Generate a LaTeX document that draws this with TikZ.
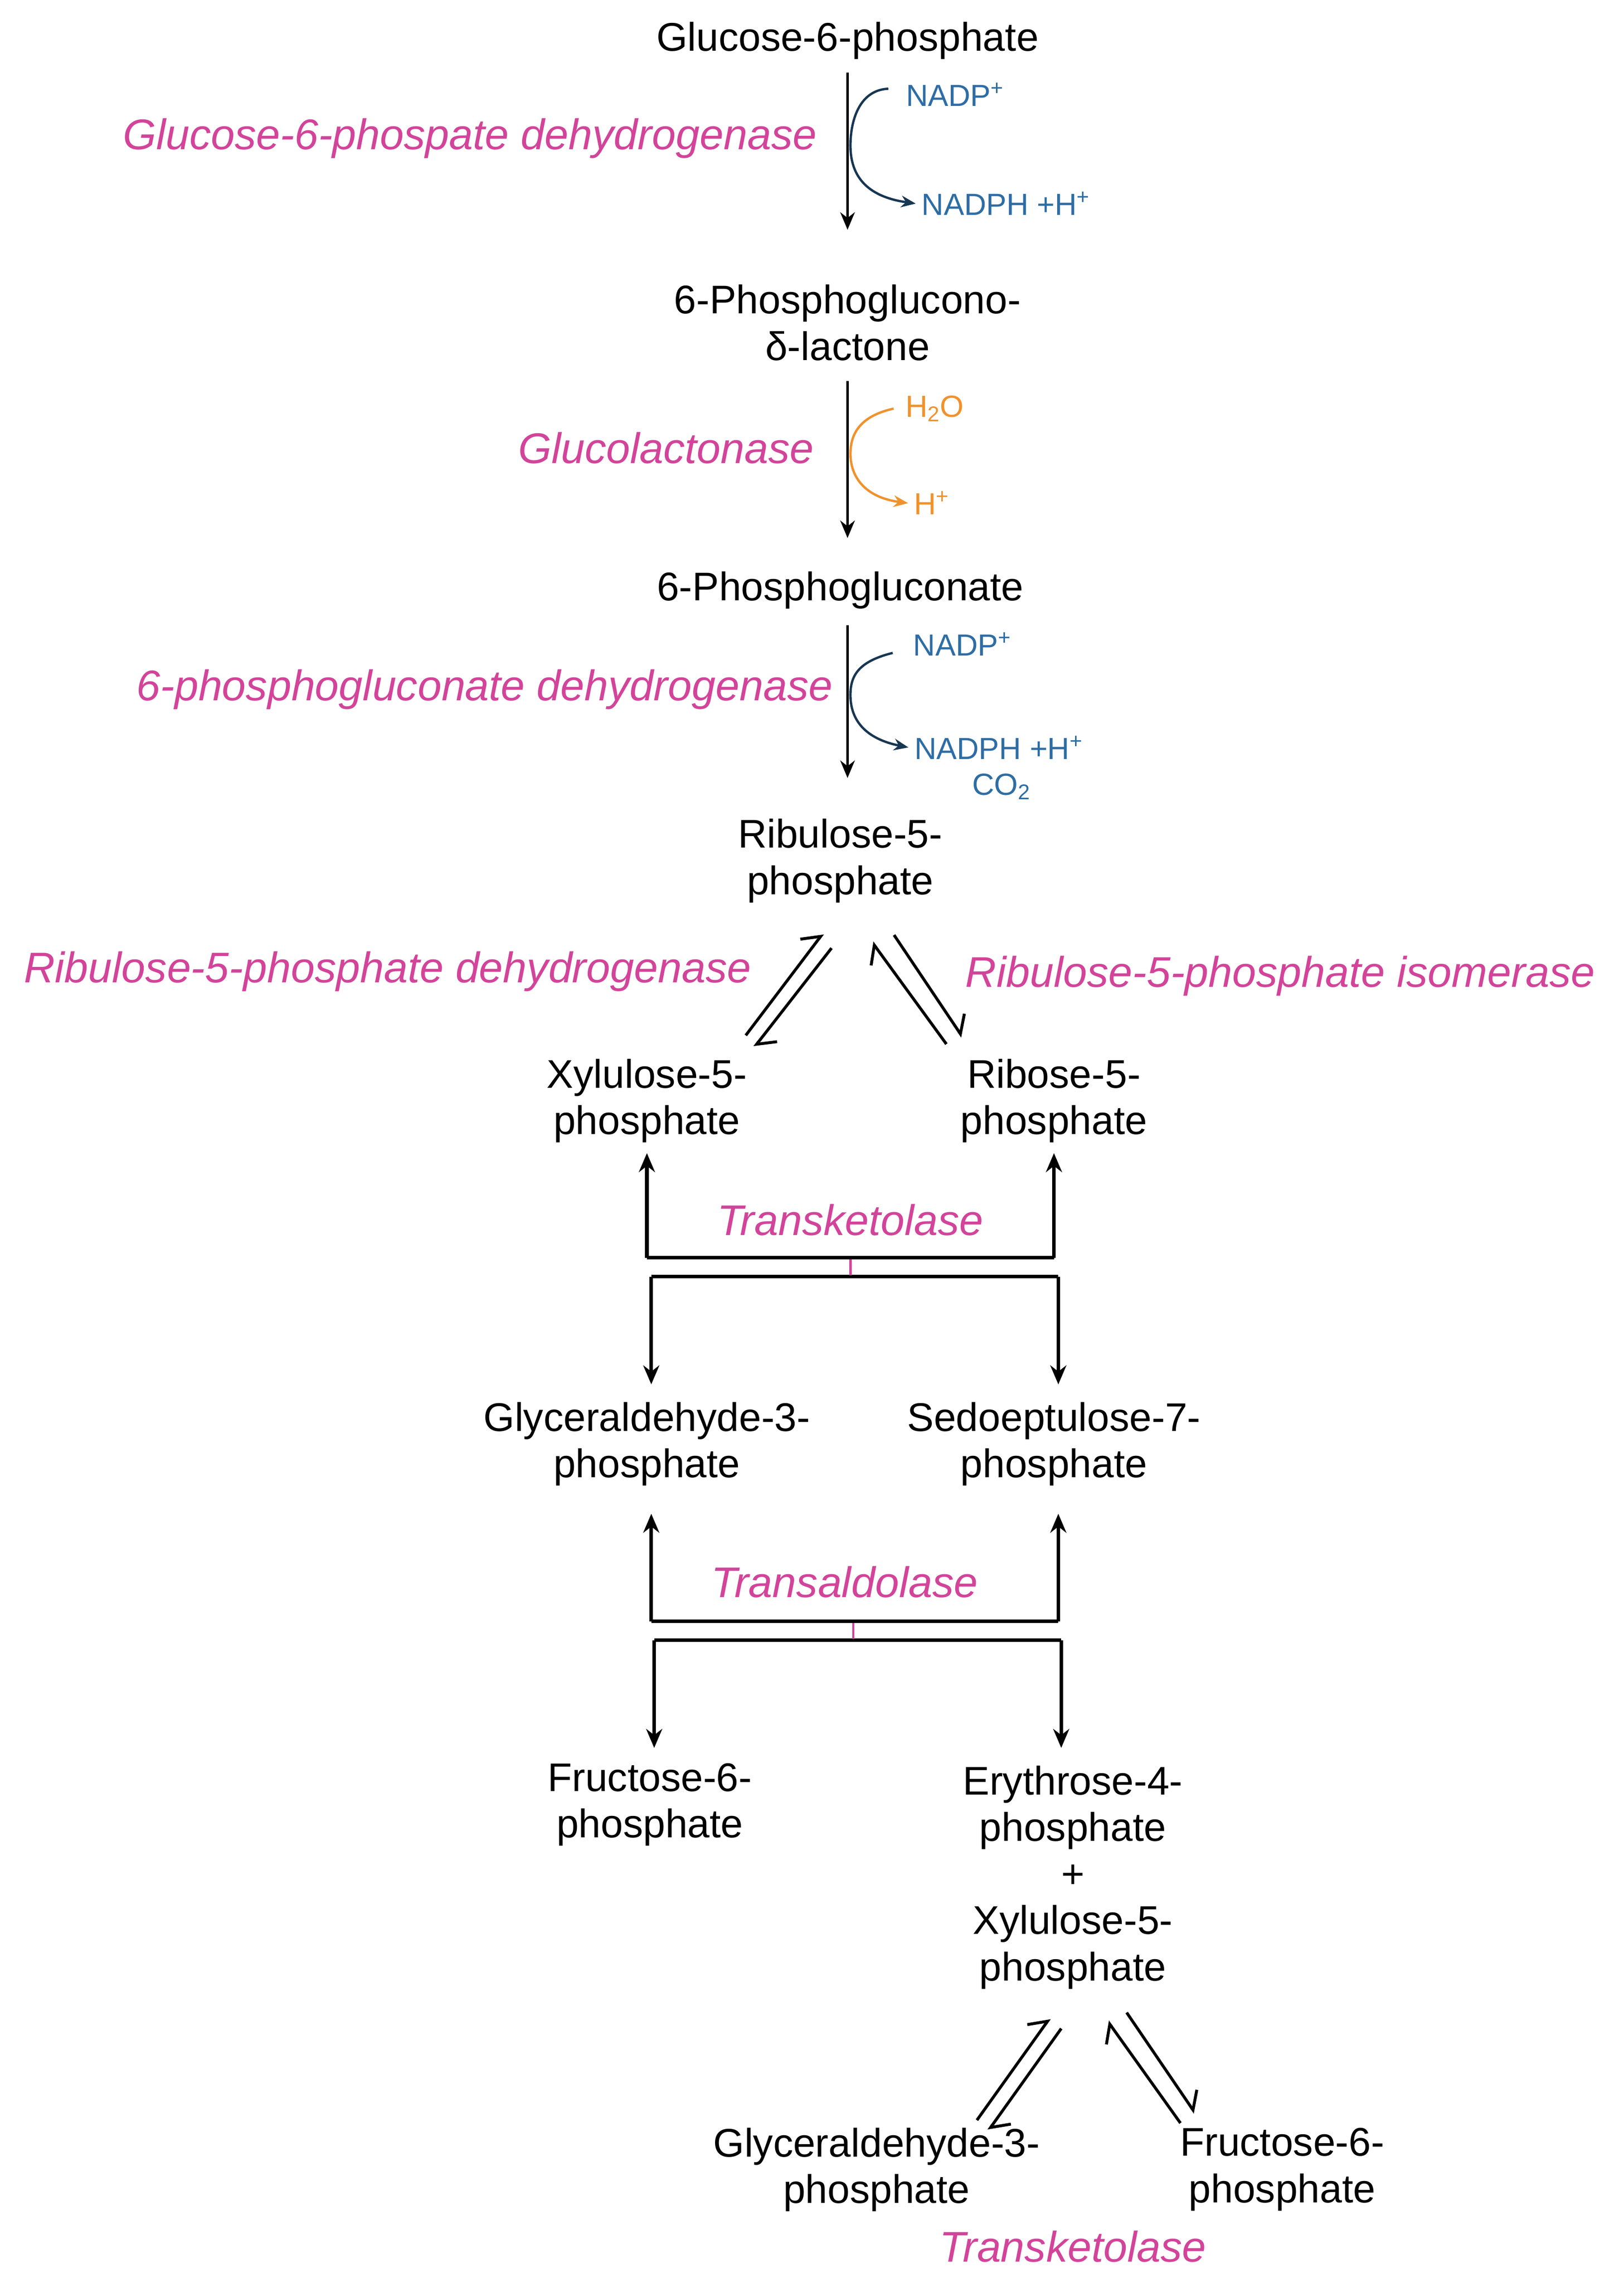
\documentclass[tikz,border=0pt]{standalone}
\usepackage{fontspec}
\setmainfont{Liberation Sans}
\usetikzlibrary{arrows.meta}
\definecolor{enz}{HTML}{D2449A}
\definecolor{cof}{HTML}{2E6DA4}
\definecolor{wat}{HTML}{F0922C}
\begin{document}
\begin{tikzpicture}[x=1pt,y=-1pt,
  met/.style={align=center,font=\fontsize{27.5}{32}\selectfont,inner sep=0pt},
  en/.style={font=\fontsize{29.5}{32}\selectfont\itshape,text=enz,inner sep=0pt},
  co/.style={font=\fontsize{21}{24}\selectfont,inner sep=0pt},
  main/.style={line width=1.8pt,-{Stealth[length=12pt,width=10pt]}},
  side/.style={line width=1.6pt,-{Stealth[length=10pt,width=8pt]}},
  br/.style={line width=2.4pt},
  brA/.style={line width=2.4pt,-{Stealth[length=13pt,width=11pt]}},
  harp/.style={line width=2pt,-{Straight Barb[left,length=10pt]}}]
\useasboundingbox (0,0) rectangle (1117,1570);
% metabolites
\node[met] (g6p) at (583,28) {Glucose-6-phosphate};
\node[met] (pgl) at (583,222) {6-Phosphoglucono-\\δ-lactone};
\node[met] (pg) at (578,406) {6-Phosphogluconate};
\node[met] (ru5p) at (578,592) {Ribulose-5-\\phosphate};
\node[met] (xu5p) at (445,757) {Xylulose-5-\\phosphate};
\node[met] (r5p) at (725,757) {Ribose-5-\\phosphate};
\node[met] (gap) at (445,993) {Glyceraldehyde-3-\\phosphate};
\node[met] (s7p) at (725,993) {Sedoeptulose-7-\\phosphate};
\node[met] (f6p) at (447,1241) {Fructose-6-\\phosphate};
\node[met] (e4p) at (738,1291) {Erythrose-4-\\phosphate\\+\\Xylulose-5-\\phosphate};
\node[met] (gap2) at (603,1492) {Glyceraldehyde-3-\\phosphate};
\node[met] (f6p2) at (882,1492) {Fructose-6-\\phosphate};
% enzymes
\node[en,anchor=east] (e1) at (562,95) {Glucose-6-phospate dehydrogenase};
\node[en,anchor=east] (e2) at (560,308) {Glucolactonase};
\node[en,anchor=east] (e3) at (573,474) {6-phosphogluconate dehydrogenase};
\node[en,anchor=east] (e4) at (517,668) {Ribulose-5-phosphate dehydrogenase};
\node[en,anchor=west] (e5) at (664,671) {Ribulose-5-phosphate isomerase};
\node[en] (e6) at (585,839) {Transketolase};
\node[en] (e7) at (581,1088) {Transaldolase};
\node[en] (e8) at (738,1545) {Transketolase};
% cofactors
\node[co,text=cof] (c1) at (657,65) {NADP\textsuperscript{+}};
\node[co,text=cof] (c2) at (692,140) {NADPH +H\textsuperscript{+}};
\node[co,text=wat] (c3) at (643,281) {H\textsubscript{2}O};
\node[co,text=wat] (c4) at (641,346) {H\textsuperscript{+}};
\node[co,text=cof] (c5) at (662,443) {NADP\textsuperscript{+}};
\node[co,text=cof] (c6) at (687,514) {NADPH +H\textsuperscript{+}};
\node[co,text=cof] (c7) at (689,541) {CO\textsubscript{2}};
% main arrows
\coordinate (a1s) at (583,50); \coordinate (a1e) at (583,158);
\draw[main] (a1s) -- (a1e);
\draw[side,draw=cof!50!black] (c1.west) ++(-12,-4) .. controls (590,62) and (585,85) .. (585,100) .. controls (585,120) and (595,135) .. ([xshift=-4pt]c2.west);
\coordinate (a2s) at (583,262); \coordinate (a2e) at (583,370);
\draw[main] (a2s) -- (a2e);
\draw[side,draw=wat] (c3.west) ++(-8,0) .. controls (592,286) and (585,298) .. (585,312) .. controls (585,328) and (595,342) .. ([xshift=-4pt]c4.west);
\coordinate (a3s) at (583,430); \coordinate (a3e) at (583,535);
\draw[main] (a3s) -- (a3e);
\draw[side,draw=cof!50!black] (c5.west) ++(-14,6) .. controls (590,455) and (585,465) .. (585,478) .. controls (585,495) and (595,508) .. ([xshift=-4pt]c6.west);
% reversible pairs
\coordinate (h1a) at (513,712); \coordinate (h1b) at (566,642);
\coordinate (h2a) at (572,652); \coordinate (h2b) at (519,720);
\draw[harp] (h1a) -- (h1b);
\draw[harp] (h2a) -- (h2b);
\coordinate (h3a) at (651,718); \coordinate (h3b) at (600,648);
\coordinate (h4a) at (615,643); \coordinate (h4b) at (662,713);
\draw[harp] (h3a) -- (h3b);
\draw[harp] (h4a) -- (h4b);
\coordinate (h5a) at (672,1458); \coordinate (h5b) at (722,1388);
\coordinate (h6a) at (730,1395); \coordinate (h6b) at (680,1465);
\draw[harp] (h5a) -- (h5b);
\draw[harp] (h6a) -- (h6b);
\coordinate (h7a) at (812,1460); \coordinate (h7b) at (762,1390);
\coordinate (h8a) at (775,1384); \coordinate (h8b) at (822,1453);
\draw[harp] (h7a) -- (h7b);
\draw[harp] (h8a) -- (h8b);
% transketolase bracket
\coordinate (t1) at (445,865); \coordinate (t2) at (725,865);
\coordinate (t3) at (448,878); \coordinate (t4) at (728,878);
\draw[brA] (t2) -- (725,793);
\draw[brA] (t1) -- (445,793);
\draw[br] (t1) -- (t2);
\draw[br] (t3) -- (t4);
\draw[brA] (t3) -- (448,952);
\draw[brA] (t4) -- (728,952);
\draw[enz,line width=1.5pt] (585,866) -- (585,877);
% transaldolase bracket
\coordinate (s1) at (448,1115); \coordinate (s2) at (728,1115);
\coordinate (s3) at (450,1128); \coordinate (s4) at (730,1128);
\draw[brA] (s1) -- (448,1041);
\draw[brA] (s2) -- (728,1041);
\draw[br] (s1) -- (s2);
\draw[br] (s3) -- (s4);
\draw[brA] (s3) -- (450,1202);
\draw[brA] (s4) -- (730,1202);
\draw[enz,line width=1.5pt] (587,1116) -- (587,1127);
\end{tikzpicture}
\end{document}
